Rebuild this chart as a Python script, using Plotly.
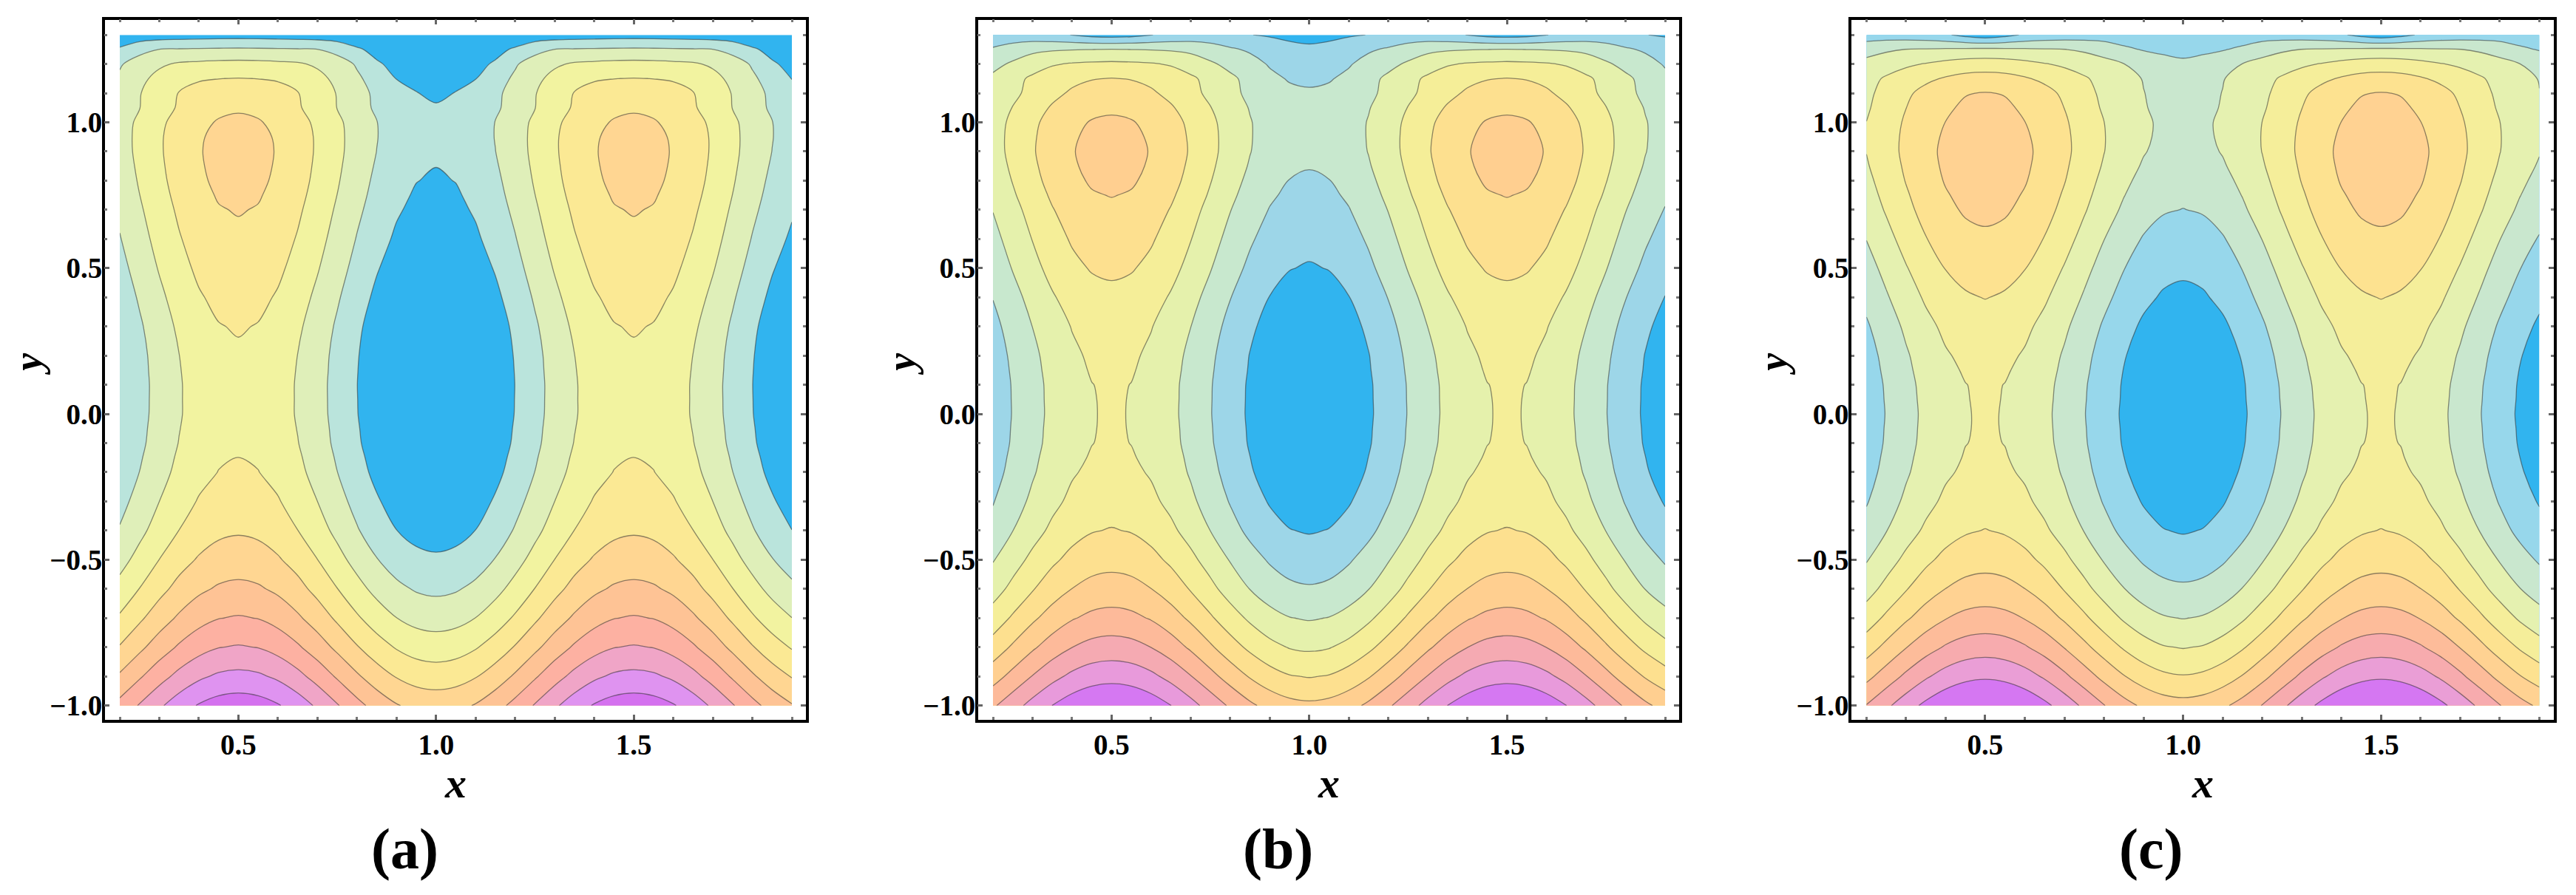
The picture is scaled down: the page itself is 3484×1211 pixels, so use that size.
import plotly.graph_objects as go

# y rows shared by the three panels
y_rows = [-1.0, -0.9, -0.8, -0.7, -0.6, -0.5, -0.4, -0.3, -0.2, -0.15, -0.1, -0.05, 0.0,
          0.05, 0.1, 0.15, 0.2, 0.3, 0.4, 0.5, 0.6, 0.7, 0.75, 0.8, 0.85, 0.9, 0.95, 1.0,
          1.05, 1.1, 1.15, 1.2, 1.25, 1.3]

x_cols = [0.2, 0.25, 0.3, 0.35, 0.4, 0.45, 0.5, 0.55, 0.6, 0.65, 0.7, 0.75, 0.8, 0.85,
          0.9, 0.95, 1.0, 1.05, 1.1, 1.15, 1.2, 1.25, 1.3, 1.35, 1.4, 1.45, 1.5, 1.55,
          1.6, 1.65, 1.7, 1.75, 1.8, 1.85, 1.9]

# the pictures repeat, so values are read for x = 0.5 ... 1.0 and folded over x_cols
fold = [6, 5, 4, 3, 2, 1, 0, 1, 2, 3, 4, 5, 6, 7, 8, 9, 10, 9, 8, 7, 6, 5, 4, 3, 2, 1, 0,
        1, 2, 3, 4, 5, 6, 7, 8]

# contour band values (k = k-th contour line)
z_a = [
    [9.55, 9.43, 9.08, 8.53, 7.84, 7.08, 6.31, 5.62, 5.07, 4.72, 4.60],
    [8.27, 8.16, 7.82, 7.29, 6.62, 5.88, 5.14, 4.47, 3.94, 3.60, 3.49],
    [7.08, 6.97, 6.64, 6.13, 5.49, 4.78, 4.07, 3.43, 2.92, 2.59, 2.48],
    [6.08, 5.97, 5.65, 5.15, 4.53, 3.83, 3.13, 2.51, 2.01, 1.69, 1.58],
    [5.23, 5.12, 4.81, 4.32, 3.70, 3.02, 2.33, 1.71, 1.22, 0.91, 0.80],
    [4.52, 4.41, 4.10, 3.62, 3.01, 2.33, 1.65, 1.04, 0.56, 0.25, 0.14],
    [3.90, 3.80, 3.49, 3.01, 2.42, 1.75, 1.08, 0.49, 0.01, -0.30, -0.40],
    [3.47, 3.37, 3.07, 2.59, 2.00, 1.35, 0.69, 0.10, -0.38, -0.68, -0.78],
    [3.12, 3.02, 2.72, 2.25, 1.66, 1.01, 0.35, -0.24, -0.71, -1.01, -1.11],
    [3.01, 2.91, 2.61, 2.14, 1.55, 0.90, 0.24, -0.35, -0.82, -1.12, -1.22],
    [2.90, 2.80, 2.50, 2.03, 1.44, 0.79, 0.13, -0.46, -0.93, -1.23, -1.33],
    [2.84, 2.74, 2.44, 1.97, 1.39, 0.74, 0.08, -0.50, -0.98, -1.28, -1.38],
    [2.79, 2.69, 2.39, 1.92, 1.34, 0.69, 0.03, -0.55, -1.02, -1.32, -1.42],
    [2.79, 2.69, 2.39, 1.92, 1.33, 0.68, 0.02, -0.57, -1.04, -1.34, -1.44],
    [2.79, 2.69, 2.39, 1.92, 1.33, 0.67, 0.01, -0.58, -1.05, -1.35, -1.45],
    [2.83, 2.73, 2.43, 1.95, 1.36, 0.70, 0.03, -0.56, -1.04, -1.34, -1.44],
    [2.88, 2.78, 2.47, 1.99, 1.39, 0.73, 0.06, -0.54, -1.02, -1.33, -1.43],
    [3.07, 2.96, 2.65, 2.16, 1.55, 0.87, 0.18, -0.43, -0.92, -1.23, -1.34],
    [3.33, 3.22, 2.91, 2.41, 1.79, 1.11, 0.42, -0.20, -0.70, -1.01, -1.12],
    [3.60, 3.49, 3.18, 2.69, 2.07, 1.38, 0.69, 0.07, -0.42, -0.73, -0.84],
    [3.83, 3.72, 3.41, 2.93, 2.32, 1.64, 0.95, 0.34, -0.14, -0.45, -0.56],
    [4.05, 3.95, 3.64, 3.15, 2.55, 1.87, 1.19, 0.59, 0.10, -0.21, -0.31],
    [4.17, 4.07, 3.75, 3.27, 2.66, 1.99, 1.31, 0.70, 0.22, -0.10, -0.20],
    [4.27, 4.17, 3.85, 3.37, 2.76, 2.09, 1.41, 0.80, 0.32, 0.02, -0.10],
    [4.32, 4.22, 3.91, 3.43, 2.83, 2.17, 1.50, 0.90, 0.42, 0.11, 0.01],
    [4.34, 4.24, 3.94, 3.47, 2.88, 2.23, 1.58, 0.99, 0.52, 0.22, 0.12],
    [4.30, 4.20, 3.91, 3.45, 2.88, 2.24, 1.60, 1.03, 0.57, 0.28, 0.18],
    [4.17, 4.07, 3.79, 3.35, 2.80, 2.19, 1.57, 1.02, 0.58, 0.30, 0.20],
    [3.90, 3.81, 3.54, 3.11, 2.58, 1.98, 1.38, 0.85, 0.42, 0.15, 0.06],
    [3.45, 3.38, 3.22, 3.03, 2.55, 1.95, 1.35, 0.80, 0.30, 0.02, -0.12],
    [3.03, 2.99, 2.94, 2.78, 2.30, 1.75, 1.15, 0.62, -0.02, -0.15, -0.25],
    [2.30, 2.27, 2.20, 2.12, 1.85, 1.45, 0.90, 0.10, -0.22, -0.34, -0.40],
    [1.15, 1.13, 1.10, 1.07, 1.02, 0.70, 0.12, -0.25, -0.42, -0.51, -0.55],
    [-0.40, -0.41, -0.44, -0.48, -0.54, -0.60, -0.66, -0.72, -0.76, -0.79, -0.80],
]

z_b = [
    [10.0, 9.88, 9.54, 9.01, 8.34, 7.60, 6.86, 6.19, 5.66, 5.32, 5.20],
    [8.67, 8.56, 8.22, 7.70, 7.04, 6.31, 5.58, 4.92, 4.40, 4.06, 3.95],
    [7.43, 7.32, 6.99, 6.48, 5.85, 5.14, 4.42, 3.79, 3.28, 2.95, 2.84],
    [6.34, 6.23, 5.92, 5.43, 4.82, 4.13, 3.44, 2.83, 2.34, 2.03, 1.92],
    [5.42, 5.32, 5.01, 4.53, 3.93, 3.26, 2.58, 1.98, 1.50, 1.19, 1.09],
    [4.68, 4.58, 4.28, 3.82, 3.24, 2.59, 1.94, 1.36, 0.90, 0.60, 0.50],
    [4.05, 3.95, 3.66, 3.20, 2.63, 1.99, 1.35, 0.78, 0.32, 0.03, -0.07],
    [3.60, 3.50, 3.21, 2.76, 2.20, 1.57, 0.94, 0.38, -0.07, -0.36, -0.46],
    [3.29, 3.19, 2.91, 2.46, 1.90, 1.28, 0.65, 0.09, -0.36, -0.64, -0.74],
    [3.18, 3.07, 2.80, 2.37, 1.81, 1.19, 0.56, 0.01, -0.44, -0.72, -0.82],
    [3.12, 2.985, 2.72, 2.28, 1.72, 1.10, 0.48, -0.08, -0.52, -0.80, -0.90],
    [3.075, 2.975, 2.69, 2.25, 1.69, 1.07, 0.45, -0.11, -0.55, -0.83, -0.93],
    [3.05, 2.98, 2.66, 2.22, 1.66, 1.04, 0.42, -0.14, -0.58, -0.86, -0.96],
    [3.075, 2.975, 2.67, 2.23, 1.67, 1.05, 0.43, -0.13, -0.58, -0.86, -0.96],
    [3.12, 2.985, 2.69, 2.24, 1.68, 1.06, 0.44, -0.12, -0.57, -0.85, -0.95],
    [3.19, 3.07, 2.75, 2.30, 1.73, 1.11, 0.49, -0.07, -0.52, -0.80, -0.90],
    [3.24, 3.14, 2.83, 2.36, 1.79, 1.17, 0.54, -0.03, -0.48, -0.76, -0.86],
    [3.43, 3.33, 3.04, 2.58, 2.01, 1.37, 0.73, 0.16, -0.30, -0.59, -0.69],
    [3.77, 3.67, 3.37, 2.91, 2.32, 1.68, 1.03, 0.44, -0.02, -0.32, -0.42],
    [4.17, 4.07, 3.77, 3.30, 2.71, 2.05, 1.39, 0.80, 0.33, 0.03, -0.07],
    [4.50, 4.40, 4.10, 3.62, 3.03, 2.37, 1.71, 1.12, 0.64, 0.34, 0.24],
    [4.83, 4.73, 4.42, 3.95, 3.35, 2.69, 2.03, 1.43, 0.96, 0.65, 0.55],
    [5.03, 4.93, 4.62, 4.14, 3.54, 2.88, 2.21, 1.61, 1.13, 0.82, 0.72],
    [5.20, 5.10, 4.79, 4.31, 3.71, 3.04, 2.37, 1.77, 1.29, 0.98, 0.88],
    [5.30, 5.20, 4.90, 4.42, 3.83, 3.17, 2.51, 1.92, 1.44, 1.14, 1.04],
    [5.35, 5.25, 4.95, 4.49, 3.91, 3.26, 2.61, 2.03, 1.57, 1.27, 1.17],
    [5.28, 5.18, 4.90, 4.45, 3.88, 3.26, 2.63, 2.06, 1.61, 1.33, 1.23],
    [5.15, 5.06, 4.78, 4.35, 3.80, 3.20, 2.60, 2.05, 1.62, 1.34, 1.25],
    [4.85, 4.76, 4.50, 4.10, 3.59, 3.03, 2.46, 1.95, 1.55, 1.29, 1.20],
    [4.45, 4.37, 4.13, 3.76, 3.29, 2.78, 2.26, 1.79, 1.42, 1.18, 1.10],
    [4.03, 3.96, 3.78, 3.47, 3.17, 2.70, 2.20, 1.70, 1.20, 0.93, 0.85],
    [3.20, 3.16, 3.08, 2.92, 2.55, 2.15, 1.72, 1.33, 0.92, 0.62, 0.55],
    [2.03, 1.99, 1.96, 1.90, 1.78, 1.45, 1.12, 0.88, 0.55, 0.25, 0.15],
    [-0.40, -0.30, -0.02, 0.20, 0.35, 0.40, 0.30, 0.02, -0.10, -0.20, -0.25],
]

z_c = [
    [10.25, 10.13, 9.78, 9.24, 8.56, 7.80, 7.04, 6.36, 5.82, 5.47, 5.35],
    [8.86, 8.74, 8.40, 7.87, 7.20, 6.46, 5.72, 5.05, 4.52, 4.18, 4.06],
    [7.54, 7.43, 7.10, 6.59, 5.96, 5.25, 4.53, 3.90, 3.39, 3.06, 2.95],
    [6.38, 6.27, 5.96, 5.47, 4.86, 4.18, 3.49, 2.88, 2.39, 2.08, 1.97],
    [5.41, 5.31, 5.01, 4.53, 3.94, 3.28, 2.62, 2.03, 1.55, 1.25, 1.15],
    [4.65, 4.55, 4.26, 3.80, 3.22, 2.58, 1.93, 1.35, 0.89, 0.60, 0.50],
    [4.03, 3.90, 3.61, 3.16, 2.60, 1.97, 1.33, 0.77, 0.32, 0.03, -0.07],
    [3.56, 3.46, 3.18, 2.73, 2.18, 1.56, 0.93, 0.38, -0.07, -0.35, -0.45],
    [3.25, 3.15, 2.87, 2.43, 1.88, 1.27, 0.65, 0.10, -0.34, -0.62, -0.72],
    [3.15, 3.05, 2.78, 2.34, 1.79, 1.18, 0.56, 0.01, -0.42, -0.70, -0.80],
    [3.09, 2.985, 2.69, 2.26, 1.71, 1.10, 0.48, -0.07, -0.50, -0.79, -0.88],
    [3.06, 2.975, 2.67, 2.23, 1.68, 1.07, 0.45, -0.10, -0.54, -0.82, -0.92],
    [3.045, 2.98, 2.65, 2.21, 1.66, 1.04, 0.42, -0.13, -0.57, -0.85, -0.95],
    [3.07, 2.98, 2.69, 2.24, 1.69, 1.07, 0.45, -0.10, -0.55, -0.83, -0.93],
    [3.12, 2.985, 2.73, 2.28, 1.72, 1.10, 0.48, -0.08, -0.53, -0.81, -0.91],
    [3.20, 3.08, 2.81, 2.37, 1.80, 1.18, 0.55, -0.02, -0.46, -0.74, -0.84],
    [3.30, 3.20, 2.91, 2.46, 1.89, 1.26, 0.63, 0.06, -0.39, -0.68, -0.78],
    [3.59, 3.49, 3.20, 2.74, 2.17, 1.53, 0.88, 0.31, -0.15, -0.44, -0.54],
    [4.03, 3.90, 3.60, 3.13, 2.55, 1.90, 1.25, 0.67, 0.20, -0.10, -0.20],
    [4.41, 4.31, 4.03, 3.53, 2.94, 2.28, 1.62, 1.03, 0.55, 0.25, 0.15],
    [4.85, 4.75, 4.44, 3.96, 3.36, 2.69, 2.02, 1.41, 0.93, 0.62, 0.52],
    [5.20, 5.10, 4.80, 4.33, 3.74, 3.09, 2.44, 1.85, 1.38, 1.08, 0.98],
    [5.33, 5.23, 4.93, 4.47, 3.89, 3.25, 2.61, 2.03, 1.57, 1.27, 1.17],
    [5.45, 5.35, 5.06, 4.61, 4.04, 3.40, 2.76, 2.19, 1.74, 1.45, 1.35],
    [5.52, 5.42, 5.14, 4.70, 4.14, 3.53, 2.91, 2.35, 1.91, 1.63, 1.53],
    [5.55, 5.46, 5.18, 4.75, 4.21, 3.62, 3.02, 2.48, 2.05, 1.77, 1.68],
    [5.47, 5.38, 5.12, 4.71, 4.19, 3.62, 3.04, 2.52, 2.11, 1.85, 1.76],
    [5.35, 5.26, 5.01, 4.61, 4.12, 3.57, 3.01, 2.52, 2.12, 1.87, 1.78],
    [5.22, 5.13, 4.88, 4.48, 3.99, 3.44, 2.88, 2.42, 2.05, 1.82, 1.72],
    [5.04, 4.96, 4.70, 4.31, 3.82, 3.30, 2.80, 2.37, 2.02, 1.75, 1.60],
    [4.39, 4.32, 4.10, 3.80, 3.45, 3.10, 2.72, 2.30, 1.96, 1.60, 1.45],
    [3.51, 3.45, 3.28, 3.05, 2.85, 2.62, 2.35, 2.02, 1.55, 1.25, 1.12],
    [2.20, 2.17, 2.12, 2.07, 2.02, 1.85, 1.55, 1.15, 0.95, 0.86, 0.82],
    [-0.60, -0.30, 0.13, 0.35, 0.45, 0.50, 0.55, 0.55, 0.50, 0.45, 0.45],
]

# colours of the bands from lowest to highest
colors_a = ["#31B4EF", "#BAE4DC", "#DFEFB9", "#F2F3A0", "#FBE994", "#FFD692",
            "#FEC395", "#FDB1A2", "#F0A5C7", "#DF93F0", "#D471EF"]
colors_b = ["#31B4EF", "#9DD6E8", "#C8E8CE", "#E5F1AC", "#F5EE98", "#FDE08F",
            "#FFCF90", "#FDBA9A", "#F5AAB2", "#E89ADB", "#D578F2"]
colors_c = ["#31B4EF", "#97D7EB", "#C9E7CE", "#E5F1B0", "#F5EE9A", "#FDE290",
            "#FFD292", "#FDBC9A", "#F7ABAE", "#EA9ED6", "#D577F2"]

tick_x = [0.5, 1.0, 1.5]
tick_y = [-1.0, -0.5, 0.0, 0.5, 1.0]
tick_y_labels = ["\u22121.0", "\u22120.5", "0.0", "0.5", "1.0"]
panel_labels = ["(a)", "(b)", "(c)"]

# the page body keeps an 8 px margin around the figure
PAGE_W, PAGE_H = 3484, 1211
BODY = 8
W, H = PAGE_W - 2 * BODY, PAGE_H - 2 * BODY
SERIF = "Liberation Serif"


def px_x(p):
    return (p - BODY) / W


def px_y(p):
    return 1 - (p - BODY) / H


def stepped(colors):
    n = len(colors)
    scale = []
    for i, c in enumerate(colors):
        scale.append([i / n, c])
        scale.append([(i + 1) / n, c])
    return scale


def axis_style():
    return dict(
        showgrid=False, zeroline=False, showline=True, linecolor="black", linewidth=3.5,
        mirror="ticks", ticks="inside", ticklen=7, tickwidth=2.5, tickcolor="#666666",
        tickfont=dict(family=SERIF, size=39, color="black", weight="bold"),
        minor=dict(tickmode="linear", tick0=0, dtick=0.1, ticks="inside", ticklen=4,
                   tickwidth=2.5, tickcolor="#777777"),
    )


fig = go.Figure()
frames = [(141.7, 1090), (1322.7, 2271), (2504, 3453.5)]
label_px = [547, 1728, 2909]
ytitle_px = [38, 1219, 2398]

for i, (z, colors) in enumerate([(z_a, colors_a), (z_b, colors_b), (z_c, colors_c)]):
    suffix = "" if i == 0 else str(i + 1)
    fig.add_trace(go.Contour(
        x=x_cols,
        y=y_rows,
        z=[[row[k] for k in fold] for row in z],
        xaxis="x" + suffix,
        yaxis="y" + suffix,
        colorscale=stepped(colors),
        zmin=-1,
        zmax=10,
        autocontour=False,
        contours=dict(start=0, end=9, size=1, coloring="fill"),
        line=dict(color="rgba(50,50,50,0.55)", width=1.3, smoothing=1.0),
        showscale=False,
        hoverinfo="skip",
    ))
    left, right = frames[i]
    fig.update_layout({
        "xaxis" + suffix: dict(
            domain=[px_x(left), px_x(right)], range=[0.162, 1.9355], anchor="y" + suffix,
            tickvals=tick_x, ticktext=[f"{v:.1f}" for v in tick_x],
            ticklabelstandoff=-3, **axis_style()),
        "yaxis" + suffix: dict(
            domain=[px_y(976), px_y(26.7)], range=[-1.048, 1.352], anchor="x" + suffix,
            tickvals=tick_y, ticktext=tick_y_labels, ticklabelstandoff=-8, **axis_style()),
    })
    mid = (left + right) / 2
    fig.add_annotation(x=px_x(mid), y=px_y(1062), xref="paper", yref="paper", showarrow=False,
                       xanchor="center", yanchor="middle", text="<b><i>x</i></b>",
                       font=dict(family=SERIF, size=58, color="black"))
    fig.add_annotation(x=px_x(ytitle_px[i]), y=px_y(494), xref="paper", yref="paper",
                       showarrow=False, xanchor="center", yanchor="middle", textangle=-90,
                       text="<b><i>y</i></b>", font=dict(family=SERIF, size=54, color="black"))
    fig.add_annotation(x=px_x(label_px[i]), y=px_y(1151), xref="paper", yref="paper",
                       showarrow=False, xanchor="center", yanchor="middle",
                       text="<b>" + panel_labels[i] + "</b>",
                       font=dict(family=SERIF, size=78, color="black"))

fig.update_layout(
    width=W,
    height=H,
    margin=dict(l=0, r=0, t=0, b=0),
    paper_bgcolor="white",
    plot_bgcolor="white",
    showlegend=False,
)

fig.write_html("out.html")
